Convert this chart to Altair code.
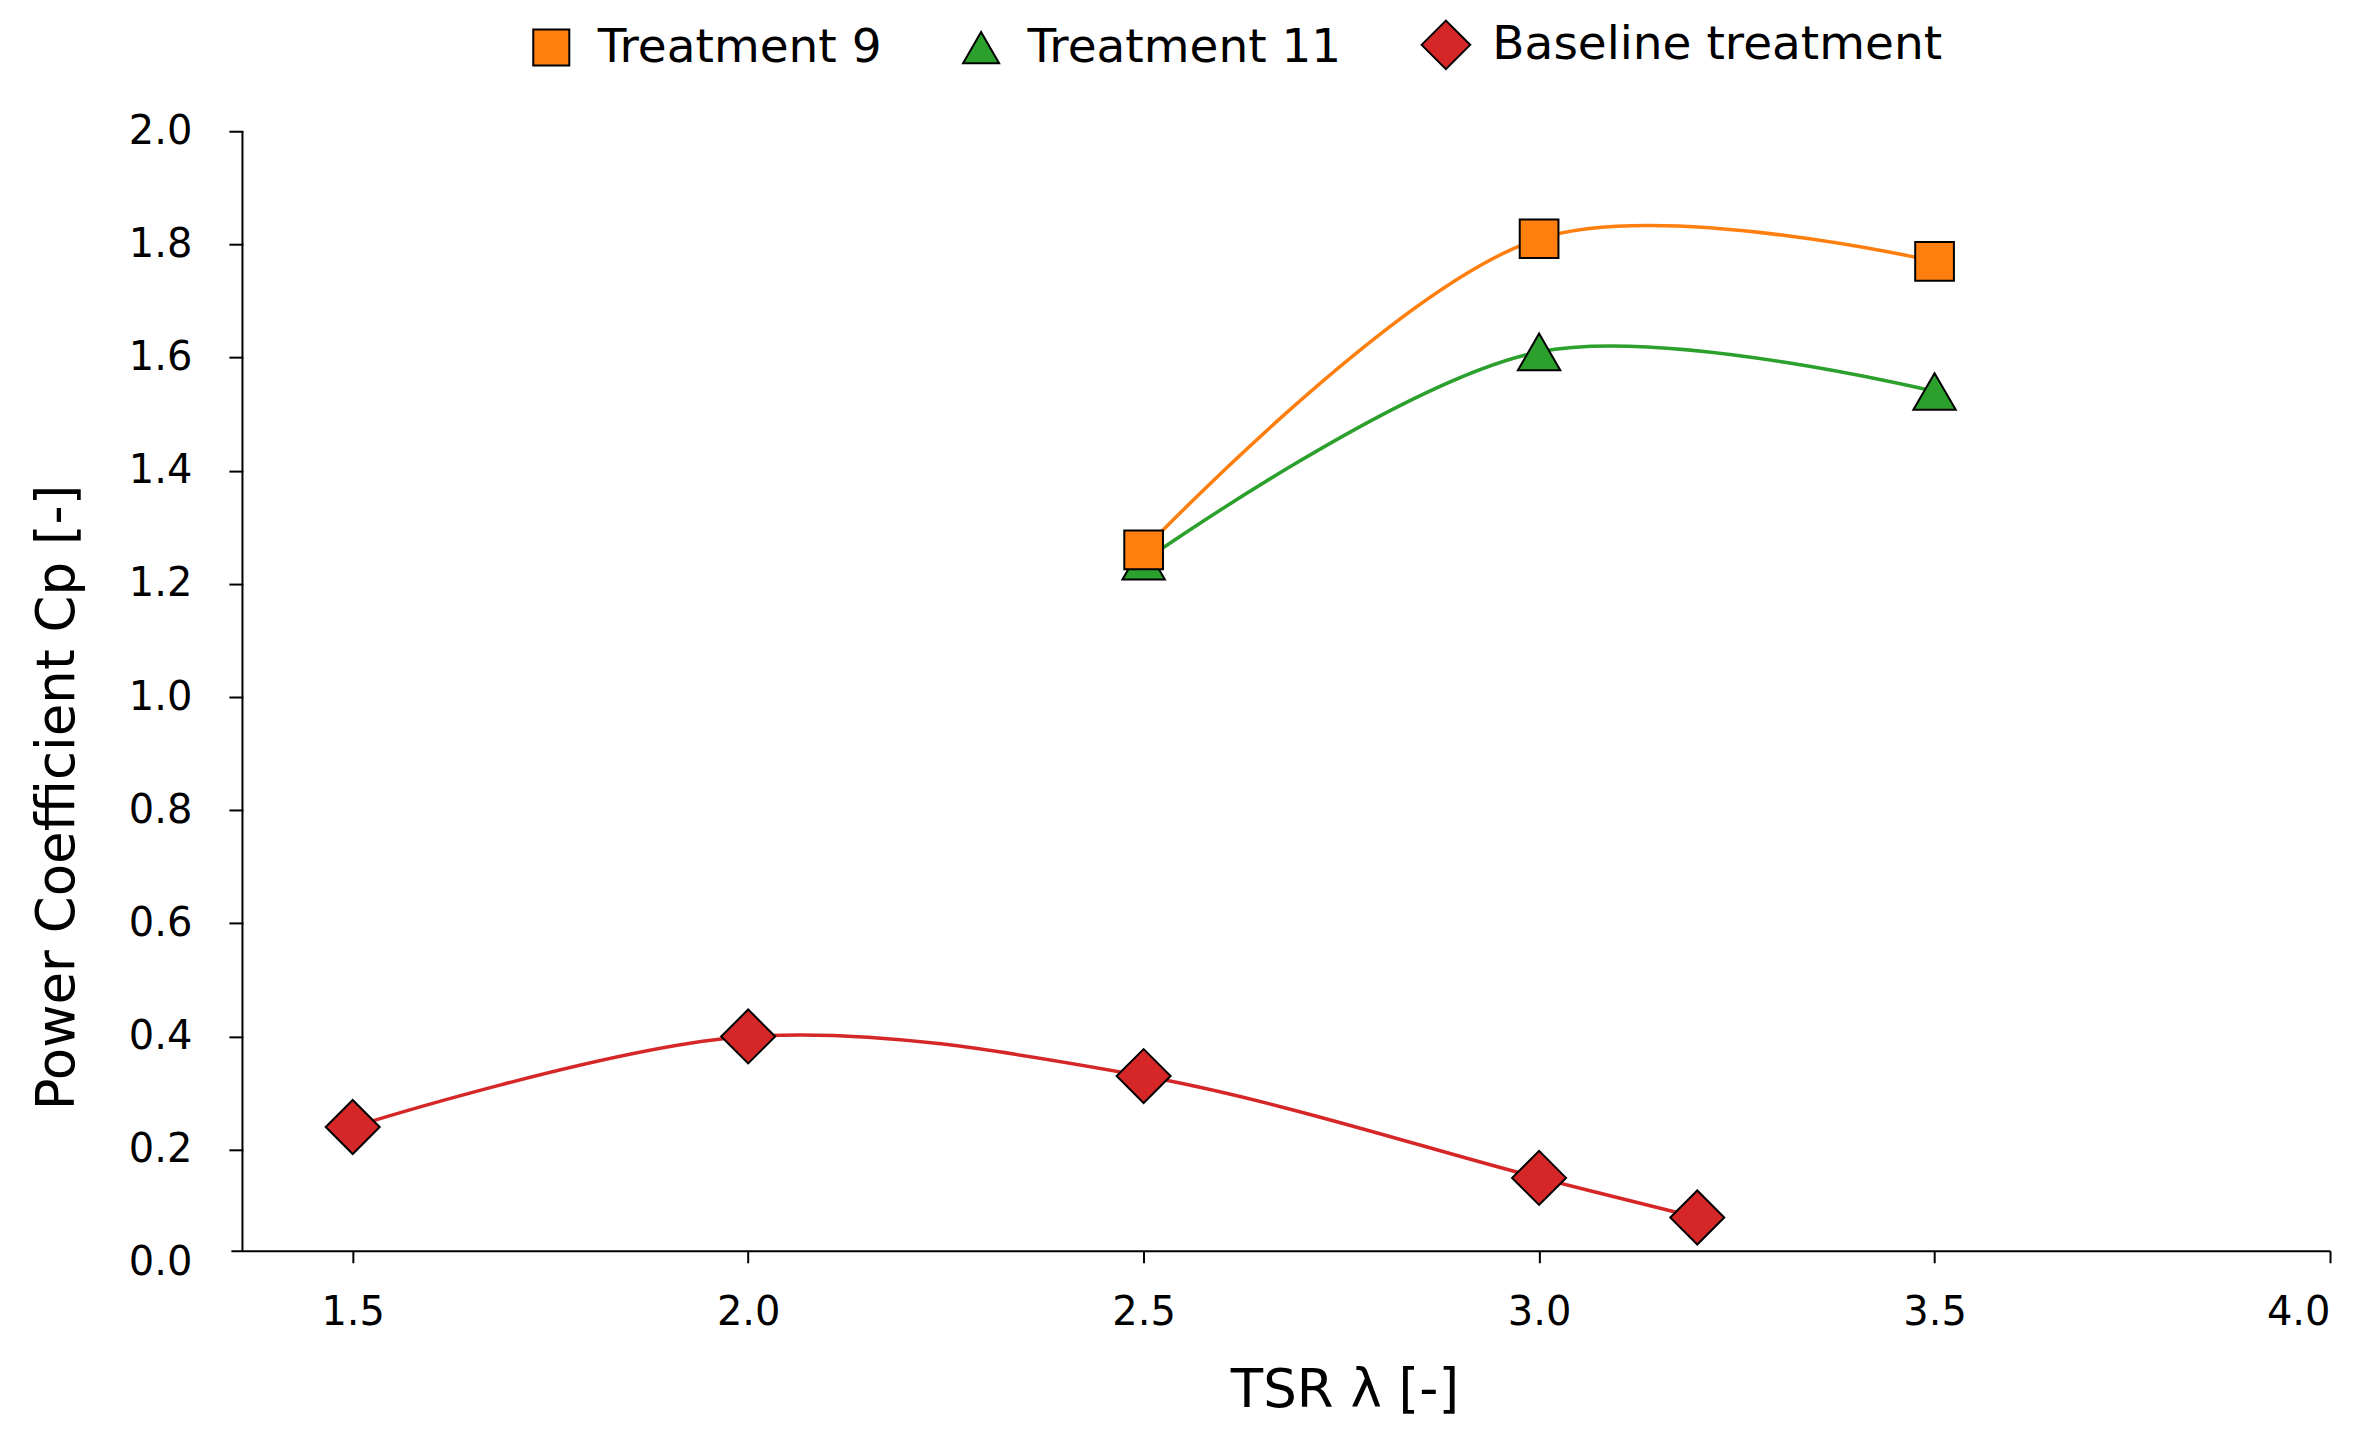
import altair as alt
import pandas as pd

# ---- data ----
series_order = ["Treatment 9", "Treatment 11", "Baseline treatment"]
colors = ["#ff7f0e", "#2ca02c", "#d62728"]
DIAMOND = "M-1.35,0L0,-1.35L1.35,0L0,1.35Z"
shapes = ["square", "triangle-up", DIAMOND]

t9_tsr = [2.5, 3.0, 3.5]
t9_cp = [1.26, 1.81, 1.77]

t11_tsr = [2.5, 3.0, 3.5]
t11_cp = [1.24, 1.61, 1.54]

base_tsr = [1.5, 2.0, 2.5, 3.0, 3.2]
base_cp = [0.24, 0.40, 0.33, 0.15, 0.08]

y_ticks = [0.0, 0.2, 0.4, 0.6, 0.8, 1.0, 1.2, 1.4, 1.6, 1.8, 2.0]
x_ticks = [1.5, 2.0, 2.5, 3.0, 3.5, 4.0]

rows = []
for s, xs, ys in [("Baseline treatment", base_tsr, base_cp),
                  ("Treatment 11", t11_tsr, t11_cp),
                  ("Treatment 9", t9_tsr, t9_cp)]:
    for x, y in zip(xs, ys):
        rows.append({"series": s, "tsr": x, "cp": y})
df = pd.DataFrame(rows)

FONT = "DejaVu Sans"
XMIN, XMAX = 1.346, 4.0
color_of = dict(zip(series_order, colors))

x_enc = alt.X("tsr:Q", scale=alt.Scale(domain=[XMIN, XMAX], nice=False, zero=False),
              axis=alt.Axis(title="TSR λ [-]", values=x_ticks, format=".1f",
                            offset=-12, tickSize=12, labelPadding=30, titlePadding=32,
                            titleX=1114, grid=False, domainWidth=2, tickWidth=2))
y_enc = alt.Y("cp:Q", scale=alt.Scale(domain=[0, 2], nice=False),
              axis=alt.Axis(title="Power Coefficient Cp [-]", values=y_ticks, format=".1f",
                            offset=-12, tickSize=14, labelPadding=37, titlePadding=44,
                            titleY=666, grid=False, domain=False, tickWidth=2,
                            tickOpacity={"condition": {"test": "datum.value == 0", "value": 0}, "value": 1}))

color_enc = alt.Color("series:N", scale=alt.Scale(domain=series_order, range=colors),
                      legend=alt.Legend(title=None, orient="none", direction="horizontal",
                                        legendX=297, legendY=-110, padding=0,
                                        columnPadding=76, labelOffset=23, labelLimit=2000,
                                        labelFont=FONT, labelFontSize=47, labelColor="black",
                                        symbolSize=1300,
                                        symbolStrokeColor="black", symbolStrokeWidth=2,
                                        symbolOpacity=1))
shape_enc = alt.Shape("series:N", scale=alt.Scale(domain=series_order, range=shapes))

layers = []
for i, s in enumerate(["Baseline treatment", "Treatment 11", "Treatment 9"]):
    sub = df[df["series"] == s]
    layers.append(
        alt.Chart(sub).mark_line(interpolate="catmull-rom", strokeWidth=3.5, color=color_of[s]).encode(
            x=x_enc if i == 0 else alt.X("tsr:Q"),
            y=y_enc if i == 0 else alt.Y("cp:Q"),
            order="tsr:Q")
    )

spine = alt.Chart(pd.DataFrame({"a": [0]})).mark_rule(color="black", strokeWidth=2).encode(
    x=alt.datum(1.3606), y=alt.datum(0.021), y2=alt.datum(2.0))
layers.append(spine)

marker_size = {"Treatment 9": 1500, "Treatment 11": 1800, "Baseline treatment": 1600}
for s in ["Baseline treatment", "Treatment 11", "Treatment 9"]:
    layers.append(
        alt.Chart(df[df["series"] == s]).mark_point(
            filled=True, opacity=1, stroke="black", strokeWidth=2, size=marker_size[s]
        ).encode(x="tsr:Q", y="cp:Q", color=color_enc, shape=shape_enc)
    )

chart = alt.layer(*layers).properties(
    width=2100, height=1132,
    autosize=alt.AutoSizeParams(type="none"),
    padding={"left": 223, "top": 123, "right": 40, "bottom": 166},
    background="white",
).configure_view(stroke=None).configure_axis(
    labelFont=FONT, labelFontSize=40, labelColor="black",
    titleFont=FONT, titleFontSize=53, titleFontWeight="normal", titleColor="black",
    domainColor="black", tickColor="black",
)

chart.save("out.html", embed_options={"renderer": "svg", "actions": False})
